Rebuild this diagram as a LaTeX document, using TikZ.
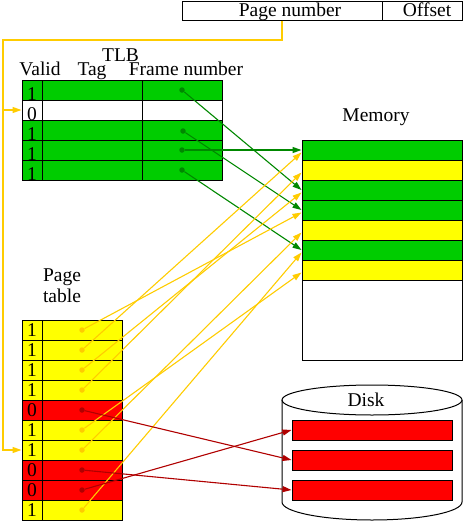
\documentclass[tikz,border=0pt]{standalone}
\usepackage{fontspec}
\setmainfont{Liberation Serif}
\usetikzlibrary{arrows.meta, positioning}
\definecolor{slotgreen}{RGB}{0,204,0}
\definecolor{slotyellow}{RGB}{255,255,0}
\definecolor{slotred}{RGB}{255,0,0}
\definecolor{ptrgold}{RGB}{255,204,0}
\definecolor{ptrgreen}{RGB}{0,136,0}
\definecolor{ptrred}{RGB}{176,0,0}
\newcommand{\figfont}{\fontsize{19.5}{22}\selectfont}

\begin{document}
\begin{tikzpicture}[x=1pt, y=-1pt,
    cell/.style={draw, line width=1pt, inner sep=0pt, minimum height=20pt, font=\figfont},
    tlbbit/.style={cell, minimum width=20pt, text height=20pt, text depth=0pt},
    ptbit/.style={cell, minimum width=20pt, text height=13pt, text depth=0pt},
    frame/.style={cell, minimum width=160pt},
    txt/.style={inner sep=0pt, anchor=base, font=\figfont},
    dot/.style={circle, inner sep=0pt, minimum size=5.5pt},
    tlbptr/.style={draw=ptrgreen, line width=1.1pt, -{Triangle[length=9pt,width=6pt]}, ptrgreen},
    ptptr/.style={draw=ptrgold, line width=1.1pt, -{Triangle[length=9pt,width=6pt]}, ptrgold},
    diskptr/.style={draw=ptrred, line width=1.1pt, -{Triangle[length=9pt,width=6pt]}, ptrred},
    addr/.style={draw=ptrgold, line width=1.1pt, -{Triangle[length=9pt,width=6pt]}, ptrgold}
]
\useasboundingbox (0,0) rectangle (463,523);

% virtual address
\node[cell, minimum width=200pt, minimum height=19pt] (pagenum) at (282,10.5) {};
\node[cell, minimum width=80pt, minimum height=19pt] (offset) at (422,10.5) {};
\node[txt] at (290,16) {Page number};
\node[txt] at (427,16) {Offset};

% TLB
\node[txt] at (120.5,61) {TLB};
\node[txt] at (40,75.5) {Valid};
\node[txt] at (92,75.5) {Tag};
\node[txt] at (186,75.5) {Frame number};

\node[tlbbit, fill=slotgreen] (tv0) at (32,90) {1};
\node[tlbbit] (tv1) at (32,110) {0};
\node[tlbbit, fill=slotgreen] (tv2) at (32,130) {1};
\node[tlbbit, fill=slotgreen] (tv3) at (32,150) {1};
\node[tlbbit, fill=slotgreen] (tv4) at (32,170) {1};

\node[cell, fill=slotgreen, minimum width=100pt] (tag0) at (92,90) {};
\node[cell, minimum width=100pt] (tag1) at (92,110) {};
\node[cell, fill=slotgreen, minimum width=100pt] (tag2) at (92,130) {};
\node[cell, fill=slotgreen, minimum width=100pt] (tag3) at (92,150) {};
\node[cell, fill=slotgreen, minimum width=100pt] (tag4) at (92,170) {};

\node[cell, fill=slotgreen, minimum width=80pt] (fn0) at (182,90) {};
\node[cell, minimum width=80pt] (fn1) at (182,110) {};
\node[cell, fill=slotgreen, minimum width=80pt] (fn2) at (182,130) {};
\node[cell, fill=slotgreen, minimum width=80pt] (fn3) at (182,150) {};
\node[cell, fill=slotgreen, minimum width=80pt] (fn4) at (182,170) {};

\node[dot, fill=ptrgreen] (t0) at (182,90) {};
\node[dot, fill=ptrgreen] (t2) at (183,131) {};
\node[dot, fill=ptrgreen] (t3) at (182,150) {};
\node[dot, fill=ptrgreen] (t4) at (182,170) {};

% memory
\node[txt] at (376,121) {Memory};
\node[cell, minimum width=160pt, minimum height=220pt] (mem) at (382,250) {};
\node[frame, fill=slotgreen] (m0) at (382,150) {};
\node[frame, fill=slotyellow] (m1) at (382,170) {};
\node[frame, fill=slotgreen] (m2) at (382,190) {};
\node[frame, fill=slotgreen] (m3) at (382,210) {};
\node[frame, fill=slotyellow] (m4) at (382,230) {};
\node[frame, fill=slotgreen] (m5) at (382,250) {};
\node[frame, fill=slotyellow] (m6) at (382,270) {};

% page table
\node[txt] at (62,281) {Page};
\node[txt] at (62,302) {table};

\node[ptbit, fill=slotyellow] (pv0) at (32,330) {1};
\node[ptbit, fill=slotyellow] (pv1) at (32,350) {1};
\node[ptbit, fill=slotyellow] (pv2) at (32,370) {1};
\node[ptbit, fill=slotyellow] (pv3) at (32,390) {1};
\node[ptbit, fill=slotred] (pv4) at (32,410) {0};
\node[ptbit, fill=slotyellow] (pv5) at (32,430) {1};
\node[ptbit, fill=slotyellow] (pv6) at (32,450) {1};
\node[ptbit, fill=slotred] (pv7) at (32,470) {0};
\node[ptbit, fill=slotred] (pv8) at (32,490) {0};
\node[ptbit, fill=slotyellow] (pv9) at (32,510) {1};

\node[cell, fill=slotyellow, minimum width=80pt] (pe0) at (82,330) {};
\node[cell, fill=slotyellow, minimum width=80pt] (pe1) at (82,350) {};
\node[cell, fill=slotyellow, minimum width=80pt] (pe2) at (82,370) {};
\node[cell, fill=slotyellow, minimum width=80pt] (pe3) at (82,390) {};
\node[cell, fill=slotred, minimum width=80pt] (pe4) at (82,410) {};
\node[cell, fill=slotyellow, minimum width=80pt] (pe5) at (82,430) {};
\node[cell, fill=slotyellow, minimum width=80pt] (pe6) at (82,450) {};
\node[cell, fill=slotred, minimum width=80pt] (pe7) at (82,470) {};
\node[cell, fill=slotred, minimum width=80pt] (pe8) at (82,490) {};
\node[cell, fill=slotyellow, minimum width=80pt] (pe9) at (82,510) {};

\node[dot, fill=ptrgold] (p0) at (82,330) {};
\node[dot, fill=ptrgold] (p1) at (82,350) {};
\node[dot, fill=ptrgold] (p2) at (82,370) {};
\node[dot, fill=ptrgold] (p3) at (82,390) {};
\node[dot, fill=ptrred] (p4) at (82,410) {};
\node[dot, fill=ptrgold] (p5) at (82,430) {};
\node[dot, fill=ptrgold] (p6) at (82,450) {};
\node[dot, fill=ptrred] (p7) at (82,470) {};
\node[dot, fill=ptrred] (p8) at (82,490) {};
\node[dot, fill=ptrgold] (p9) at (82,510) {};

% disk
\draw[line width=1pt] (282,400) -- (282,502) arc[start angle=180, end angle=0, x radius=90, y radius=18] -- (462,400);
\draw[line width=1pt] (372,400) ellipse[x radius=90, y radius=15];
\node[txt] (disk) at (366,406) {Disk};
\node[cell, fill=slotred, minimum width=160pt] (d0) at (372,430) {};
\node[cell, fill=slotred, minimum width=160pt] (d1) at (372,460) {};
\node[cell, fill=slotred, minimum width=160pt] (d2) at (372,490) {};

% page number lookup
\coordinate (bend) at (3,40);
\draw[addr] (pagenum.south) |- (bend) |- (tv1.west);
\draw[addr] (bend) |- (pv6.west);

% TLB hits
\draw[tlbptr] (t0) -- (m2.west);
\draw[tlbptr] (t2) -- (m3.west);
\draw[tlbptr] (t3) -- (m0.west);
\draw[tlbptr] (t4) -- (m5.west);

% page table entries
\draw[ptptr] (p0) -- ([yshift=-2.5pt]m3.west);
\draw[ptptr] (p1) -- ([yshift=-2.5pt]m0.west);
\draw[ptptr] (p2) -- ([yshift=-2.5pt]m2.west);
\draw[ptptr] (p3) -- ([yshift=-2.5pt]m1.west);
\draw[ptptr] (p5) -- ([yshift=-2.5pt]m6.west);
\draw[ptptr] (p6) -- ([yshift=-2.5pt]m4.west);
\draw[ptptr] (p9) -- ([yshift=-2.5pt]m5.west);

\draw[diskptr] (p4) -- (d1.west);
\draw[diskptr] (p7) -- (d2.west);
\draw[diskptr] (p8) -- (d0.west);
\end{tikzpicture}
\end{document}
